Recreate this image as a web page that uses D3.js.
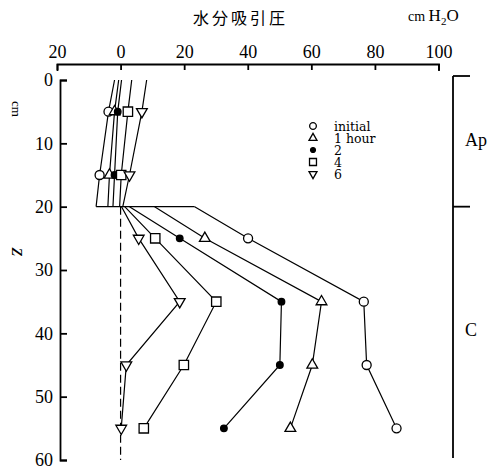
<!DOCTYPE html>
<html>
<head>
<meta charset="utf-8">
<script src="https://cdn.jsdelivr.net/npm/d3@7"></script>
<style>
body { margin: 0; background: #fff; }
svg text { fill: #000; }
</style>
</head>
<body>
<div id="chart"></div>
<script>
// depths (cm) where each layer's line is drawn
const depthsAp = [0, 5, 15, 20]
const depthsC = [20, 25, 35, 45, 55]

// series: time after start
const seriesNames = ["initial", "1 hour", "2", "4", "6"]

// suction (cm H2O), Ap layer at depths 0, 5, 15, 20
const apValues = [
    [-1.9, -3.8, -6.6, -7.7],
    [-0.6, -1.9, -3.5, -4.0],
    [0.3, -0.9, -1.9, -2.4],
    [3.5, 2.3, 0.2, -0.3],
    [8.2, 6.7, 2.8, 0.7]
]

// suction (cm H2O), C layer at depths 20, 25, 35, 45, 55
const cValues = [
    [23.3, 40.1, 76.5, 77.4, 86.8],
    [10.7, 26.5, 63.2, 60.3, 53.4],
    [2.8, 18.6, 50.6, 50.1, 32.5],
    [1.3, 10.9, 30.1, 19.9, 7.3],
    [0.3, 5.7, 18.6, 1.8, 0.2]
]

const xTicks = [-20, 0, 20, 40, 60, 80, 100]
const yTicks = [0, 10, 20, 30, 40, 50, 60]

const horizonNames = ["Ap", "C"]
const horizonDepths = [0, 20, 60]

let width = 490, height = 475

let svg = d3.select("#chart").append("svg")
    .attr("width", width)
    .attr("height", height)

let x = d3.scaleLinear().domain([-20, 100]).range([57, 438.5])
let y = d3.scaleLinear().domain([0, 60]).range([80, 460])

// title + unit
svg.append("text")
    .attr("x", 193)
    .attr("y", 24)
    .style("font-family", "'Noto Sans CJK JP'")
    .style("font-size", "16px")
    .style("letter-spacing", "3px")
    .text("水分吸引圧")

let unit = svg.append("text")
    .attr("x", 408)
    .attr("y", 21)
    .style("font-family", "'Liberation Serif'")
unit.append("tspan").style("font-size", "14px").text("cm ")
unit.append("tspan").style("font-size", "17px").text("H")
unit.append("tspan").style("font-size", "11px").attr("dy", 4).text("2")
unit.append("tspan").style("font-size", "17px").attr("dy", -4).text("O")

// top axis, ticks pointing down
let xAxis = d3.axisTop(x)
    .tickValues(xTicks)
    .tickFormat(d => Math.abs(d))
    .tickSizeInner(-6)
    .tickSizeOuter(-7)
    .tickPadding(6)

svg.append("g")
    .attr("transform", "translate(0,64)")
    .call(xAxis)

// left axis, ticks pointing right
let yAxis = d3.axisLeft(y)
    .tickValues(yTicks)
    .tickSizeInner(-7)
    .tickSizeOuter(-7)
    .tickPadding(7)

svg.append("g")
    .attr("transform", "translate(60,0)")
    .call(yAxis)

svg.selectAll(".domain, .tick line")
    .attr("stroke", "#000")
    .attr("stroke-width", 1.8)
svg.selectAll(".tick text")
    .style("font-family", "'Liberation Serif'")
    .style("font-size", "18px")
    .attr("fill", "#000")

// vertical axis labels
svg.append("text")
    .attr("transform", "translate(12,109) rotate(90)")
    .attr("text-anchor", "middle")
    .style("font-family", "'Liberation Serif'")
    .style("font-size", "13px")
    .text("cm")

svg.append("text")
    .attr("transform", "translate(12,252) rotate(90)")
    .attr("text-anchor", "middle")
    .style("font-family", "'Liberation Serif'")
    .style("font-style", "italic")
    .style("font-size", "22px")
    .text("z")

// horizon bracket on the right
let bx = 453
svg.append("line")
    .attr("x1", bx).attr("x2", bx)
    .attr("y1", y(horizonDepths[0]) - 4)
    .attr("y2", y(horizonDepths[horizonDepths.length - 1]) - 2)
    .attr("stroke", "#000").attr("stroke-width", 1.8)

svg.selectAll(".hz-tick")
    .data(horizonDepths.slice(0, -1))
    .enter()
    .append("line")
    .attr("class", "hz-tick")
    .attr("x1", bx).attr("x2", 470)
    .attr("y1", (d, i) => i === 0 ? y(d) - 4 : y(d))
    .attr("y2", (d, i) => i === 0 ? y(d) - 4 : y(d))
    .attr("stroke", "#000").attr("stroke-width", 1.8)

svg.selectAll(".hz-label")
    .data(horizonNames)
    .enter()
    .append("text")
    .attr("class", "hz-label")
    .attr("x", 465)
    .attr("y", (d, i) => y((horizonDepths[i] + horizonDepths[i + 1]) / 2) - 4)
    .attr("dy", "0.35em")
    .style("font-family", "'Liberation Serif'")
    .style("font-size", "18px")
    .text(d => d)

// dashed zero line in C layer
svg.append("line")
    .attr("x1", x(0)).attr("x2", x(0))
    .attr("y1", y(20)).attr("y2", y(60))
    .attr("stroke", "#000")
    .attr("stroke-width", 1.2)
    .attr("stroke-dasharray", "8,4")

// horizontal line at the layer boundary
let boundaryMin = d3.min(apValues, d => d[d.length - 1])
let boundaryMax = d3.max(cValues, d => d[0])
svg.append("line")
    .attr("x1", x(boundaryMin)).attr("x2", x(boundaryMax))
    .attr("y1", y(20)).attr("y2", y(20))
    .attr("stroke", "#000").attr("stroke-width", 1.4)

// profile lines
let line = d3.line()
    .x(d => x(d.v))
    .y(d => y(d.z))

seriesNames.forEach((name, i) => {
    let ap = depthsAp.map((z, j) => ({z: z, v: apValues[i][j]}))
    let c = depthsC.map((z, j) => ({z: z, v: cValues[i][j]}))
    svg.append("path").datum(ap)
        .attr("d", line).attr("fill", "none")
        .attr("stroke", "#000").attr("stroke-width", 1.2)
    svg.append("path").datum(c)
        .attr("d", line).attr("fill", "none")
        .attr("stroke", "#000").attr("stroke-width", 1.2)
})

// markers
const symbolTypes = [d3.symbolCircle, d3.symbolTriangle, d3.symbolCircle, d3.symbolSquare, d3.symbolTriangle]
const symbolSizes = [64, 50, 34, 88, 50]
const symbolRotate = [0, 0, 0, 0, 180]
const symbolFill = ["#fff", "#fff", "#000", "#fff", "#fff"]

function drawMarker(g, i, cx, cy, scale) {
    g.append("path")
        .attr("d", d3.symbol().type(symbolTypes[i]).size(symbolSizes[i] * scale)())
        .attr("transform", `translate(${cx},${cy}) rotate(${symbolRotate[i]})`)
        .attr("fill", symbolFill[i])
        .attr("stroke", "#000")
        .attr("stroke-width", 1.3)
}

seriesNames.forEach((name, i) => {
    let pts = depthsAp.slice(1, -1).map((z, j) => ({z: z, v: apValues[i][j + 1]}))
        .concat(depthsC.slice(1).map((z, j) => ({z: z, v: cValues[i][j + 1]})))
    pts.forEach(p => drawMarker(svg, i, x(p.v), y(p.z), 1))
})

// legend (rows packed tight like the original)
const legendSymY = [126, 138, 150, 162, 174]
let legend = svg.append("g")
seriesNames.forEach((name, i) => {
    drawMarker(legend, i, 313, legendSymY[i], 0.55)
    legend.append("text")
        .attr("x", 334)
        .attr("y", legendSymY[i] + 4.5)
        .style("font-family", "'DejaVu Serif'")
        .style("font-size", "12.5px")
        .text(name)
})
</script>
</body>
</html>
